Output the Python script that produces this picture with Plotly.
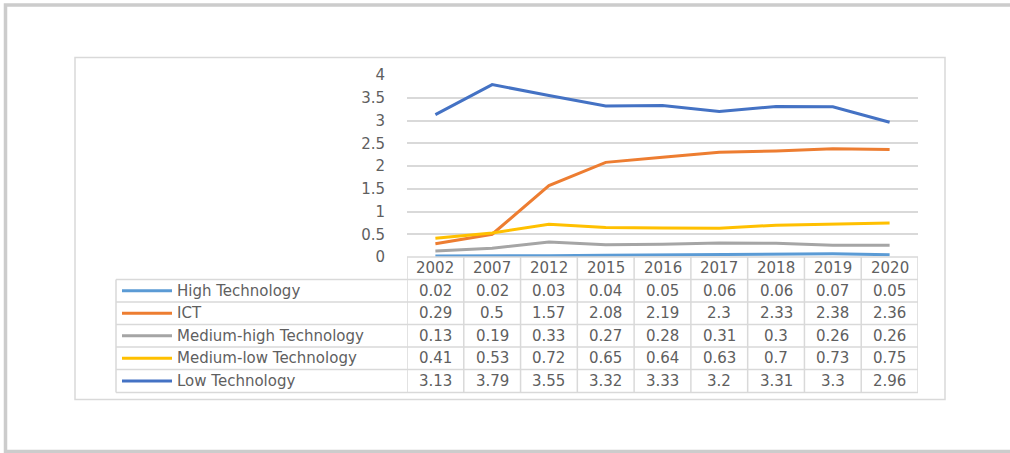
import plotly.graph_objects as go

W, H = 1010, 453

years = ["2002", "2007", "2012", "2015", "2016", "2017", "2018", "2019", "2020"]
series_names = ["High Technology", "ICT", "Medium-high Technology", "Medium-low Technology", "Low Technology"]
high_tech = [0.02, 0.02, 0.03, 0.04, 0.05, 0.06, 0.06, 0.07, 0.05]
ict = [0.29, 0.5, 1.57, 2.08, 2.19, 2.3, 2.33, 2.38, 2.36]
medium_high = [0.13, 0.19, 0.33, 0.27, 0.28, 0.31, 0.3, 0.26, 0.26]
medium_low = [0.41, 0.53, 0.72, 0.65, 0.64, 0.63, 0.7, 0.73, 0.75]
low_tech = [3.13, 3.79, 3.55, 3.32, 3.33, 3.2, 3.31, 3.3, 2.96]
colors = ["#5B9BD5", "#ED7D31", "#A5A5A5", "#FFC000", "#4472C4"]
all_series = [high_tech, ict, medium_high, medium_low, low_tech]

TXT = "#5f5f5f"
GRID = "#d9d9d9"
FONT = "DejaVu Sans"
FS = 15


def px(x):
    return x / W


def py(y):
    return 1 - y / H


plot_l, plot_r, plot_t, plot_b = 407, 918, 75, 257

fig = go.Figure()
for name, vals, c in zip(series_names, all_series, colors):
    fig.add_trace(go.Scatter(x=years, y=vals, mode="lines", name=name,
                             line=dict(color=c, width=3), showlegend=False))

shapes = []
annotations = []

# outer border (right edge falls outside the canvas, as in the reference)
shapes.append(dict(type="rect", xref="paper", yref="paper", x0=px(5.5), x1=px(1012),
                   y0=py(451.5), y1=py(5), line=dict(color="#cccccc", width=3.5)))
# inner chart box
shapes.append(dict(type="rect", xref="paper", yref="paper", x0=px(75), x1=px(945),
                   y0=py(399.5), y1=py(57.5), line=dict(color=GRID, width=1.5)))

# table geometry
row_edges = [257, 279.5, 302, 324.5, 347, 369.5, 392.5]
tbl_left = 116
for i, ye in enumerate(row_edges):
    if i == 0:
        shapes.append(dict(type="line", xref="x", yref="paper", x0=-0.5, x1=8.5,
                           y0=py(ye), y1=py(ye), line=dict(color=GRID, width=1.5)))
    else:
        shapes.append(dict(type="line", xref="paper", yref="paper", x0=px(tbl_left), x1=px(plot_r),
                           y0=py(ye), y1=py(ye), line=dict(color=GRID, width=1.5)))
for k in range(len(years) + 1):
    shapes.append(dict(type="line", xref="x", yref="paper", x0=k - 0.5, x1=k - 0.5,
                       y0=py(row_edges[-1]), y1=py(row_edges[0]), line=dict(color=GRID, width=1.5)))
shapes.append(dict(type="line", xref="paper", yref="paper", x0=px(tbl_left), x1=px(tbl_left),
                   y0=py(row_edges[-1]), y1=py(row_edges[1]), line=dict(color=GRID, width=1.5)))

hy = (row_edges[0] + row_edges[1]) / 2
for i, yr in enumerate(years):
    annotations.append(dict(x=i, y=py(hy), xref="x", yref="paper", text=yr, showarrow=False,
                            font=dict(family=FONT, size=FS, color=TXT), xanchor="center", yanchor="middle"))

for r, (name, vals, c) in enumerate(zip(series_names, all_series, colors)):
    yc = (row_edges[r + 1] + row_edges[r + 2]) / 2
    shapes.append(dict(type="line", xref="paper", yref="paper", x0=px(122), x1=px(172),
                       y0=py(yc), y1=py(yc), line=dict(color=c, width=3)))
    annotations.append(dict(x=px(175), y=py(yc), xref="paper", yref="paper", text=name,
                            showarrow=False, font=dict(family=FONT, size=FS, color=TXT),
                            xanchor="left", yanchor="middle"))
    for i, v in enumerate(vals):
        annotations.append(dict(x=i, y=py(yc), xref="x", yref="paper", text=f"{v:g}",
                                showarrow=False, font=dict(family=FONT, size=FS, color=TXT),
                                xanchor="center", yanchor="middle"))

fig.update_layout(
    width=W, height=H, autosize=False,
    margin=dict(l=0, r=0, t=0, b=0, pad=0, autoexpand=False),
    paper_bgcolor="white", plot_bgcolor="white",
    shapes=shapes, annotations=annotations,
    xaxis=dict(domain=[px(plot_l), px(plot_r)], type="category", range=[-0.5, 8.5],
               showticklabels=False, showgrid=False, zeroline=False, showline=False, ticks="",
               automargin=False),
    yaxis=dict(domain=[py(plot_b), py(plot_t)], range=[0, 4], dtick=0.5,
               tickvals=[0, 0.5, 1, 1.5, 2, 2.5, 3, 3.5, 4],
               ticktext=["0", "0.5", "1", "1.5", "2", "2.5", "3", "3.5", "4"],
               showgrid=True, gridcolor=GRID, gridwidth=1.5, zeroline=False, showline=False,
               ticks="", ticklabelstandoff=21, automargin=False,
               tickfont=dict(family=FONT, size=FS, color=TXT)),
)

fig.write_html("out.html")
